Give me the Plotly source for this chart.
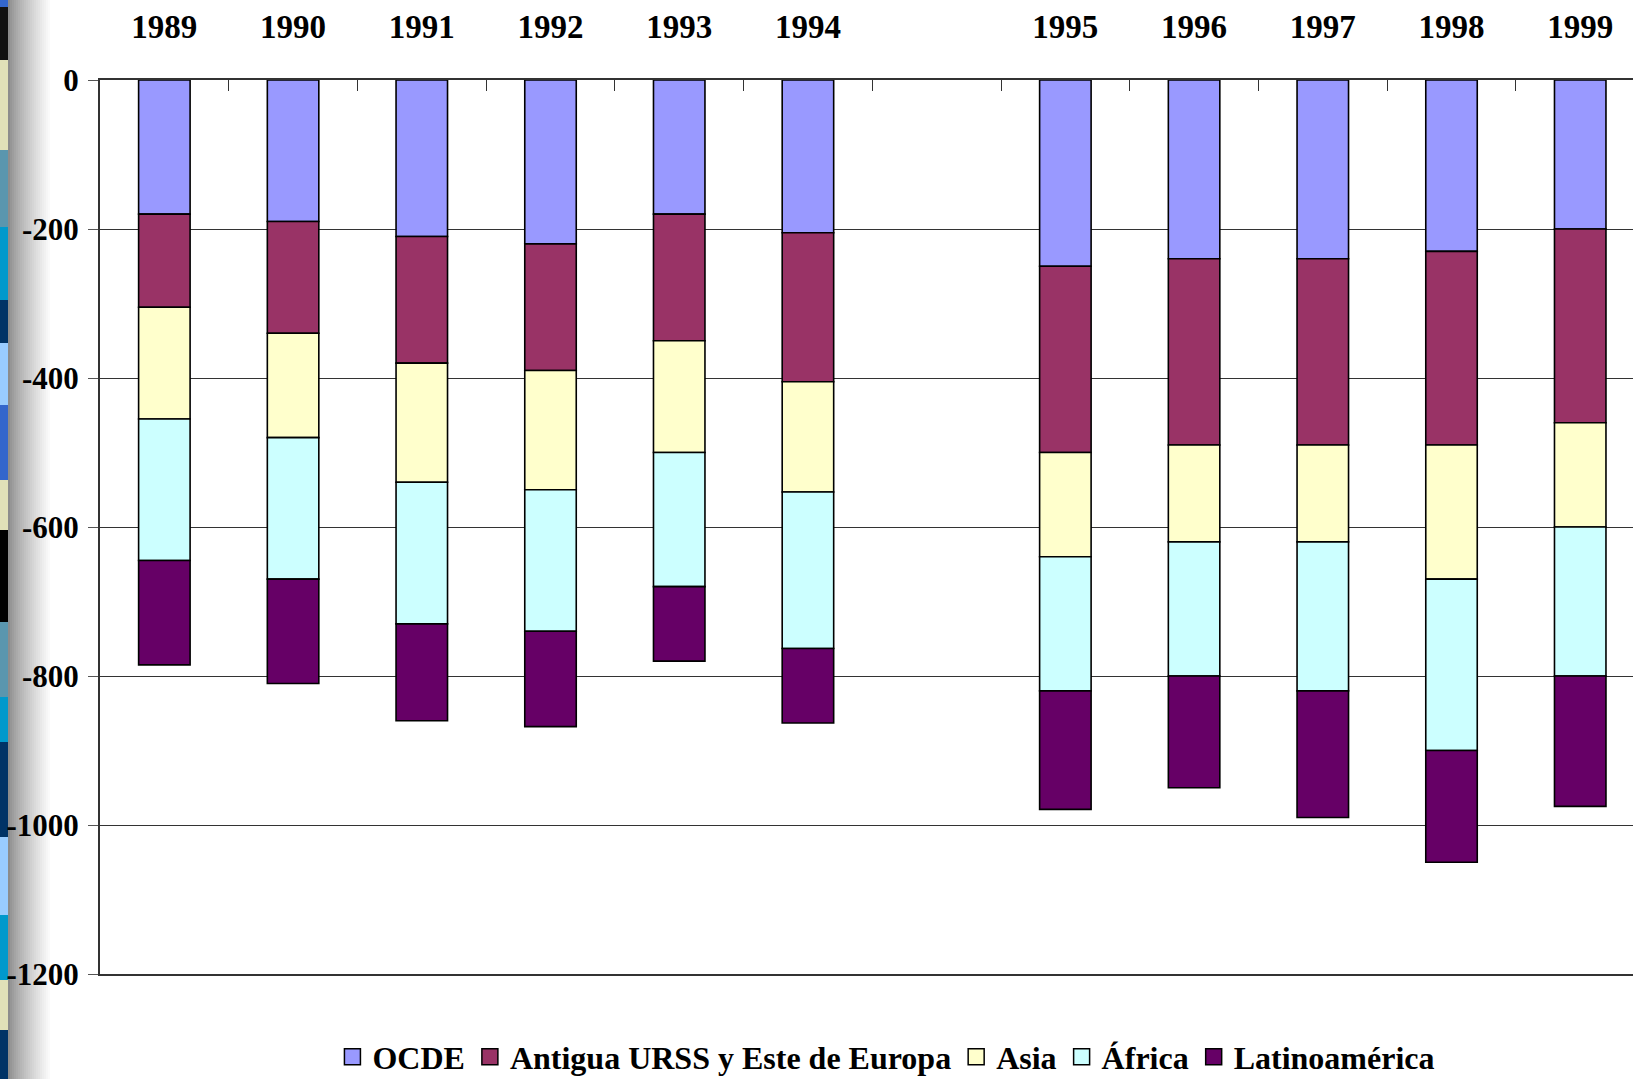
import plotly.graph_objects as go

# Years and their slot on the x axis (slot 6 is left empty as a visual break)
years = ["1989", "1990", "1991", "1992", "1993", "1994",
         "1995", "1996", "1997", "1998", "1999"]
slots = [0, 1, 2, 3, 4, 5, 7, 8, 9, 10, 11]

regions = ["OCDE", "Antigua URSS y Este de Europa", "Asia", "África", "Latinoamérica"]
colors = ["#9999FF", "#993366", "#FFFFCC", "#CCFFFF", "#660066"]

ocde = [-180, -190, -210, -220, -180, -205, -250, -240, -240, -230, -200]
urss = [-125, -150, -170, -170, -170, -200, -250, -250, -250, -260, -260]
asia = [-150, -140, -160, -160, -150, -148, -140, -130, -130, -180, -140]
africa = [-190, -190, -190, -190, -180, -210, -180, -180, -200, -230, -200]
latam = [-140, -140, -130, -128, -100, -100, -159, -150, -170, -150, -175]

series = [ocde, urss, asia, africa, latam]

y_ticks = [0, -200, -400, -600, -800, -1000, -1200]

# Decorative side band: (top px, bottom px, colour)
band = [
    (0, 7, "#3366CC"), (7, 60, "#111111"), (60, 150, "#E0E0B8"),
    (150, 227, "#5A96AE"), (227, 300, "#0099CC"), (300, 343, "#003366"),
    (343, 405, "#99CCFF"), (405, 480, "#3366CC"), (480, 530, "#E0E0B8"),
    (530, 622, "#000000"), (622, 697, "#5A96AE"), (697, 742, "#0099CC"),
    (742, 837, "#003366"), (837, 915, "#99CCFF"), (915, 980, "#0099CC"),
    (980, 1030, "#E0E0B8"), (1030, 1079, "#003366"),
]

W, H = 1633, 1079
L, T, B = 100, 80, 105
plot_w = W - L
plot_h = H - T - B


def px_x(p):
    return (p - L) / plot_w


def px_y(p):
    return (H - B - p) / plot_h


fig = go.Figure()
for name, vals, col in zip(regions, series, colors):
    fig.add_trace(go.Bar(
        x=slots, y=vals, name=name, width=0.4, legendgroup=name, showlegend=False,
        marker=dict(color=col, line=dict(color="black", width=1.6)),
    ))
# square swatches for the legend
for name, col in zip(regions, colors):
    fig.add_trace(go.Scatter(
        x=[None], y=[None], mode="markers", name=name, legendgroup=name,
        marker=dict(symbol="square", size=16, color=col,
                    line=dict(color="black", width=1.5)),
    ))

shapes = []
for top, bot, col in band:
    shapes.append(dict(type="rect", xref="paper", yref="paper",
                       x0=px_x(0), x1=px_x(12), y0=px_y(bot), y1=px_y(top),
                       fillcolor=col, line=dict(width=0), layer="below"))
# soft grey shading fading into the page
steps = 22
for i in range(steps):
    x0 = 8 + i * 2
    g = int(140 + (255 - 140) * (i / (steps - 1)) ** 0.8)
    shapes.append(dict(type="rect", xref="paper", yref="paper",
                       x0=px_x(x0), x1=px_x(x0 + 2.2), y0=px_y(H), y1=px_y(0),
                       fillcolor=f"rgb({g},{g},{g})", line=dict(width=0), layer="below"))

font_x = dict(family="Liberation Serif", size=33, color="black", weight="bold")
font_y = dict(family="Liberation Serif", size=31, color="black", weight="bold")

fig.update_layout(
    width=W, height=H,
    margin=dict(l=L, r=0, t=T, b=B, autoexpand=False),
    barmode="relative",
    plot_bgcolor="rgba(0,0,0,0)", paper_bgcolor="white",
    showlegend=True,
    legend=dict(orientation="h", x=0.513, xanchor="center", y=-0.062, yanchor="top",
                traceorder="normal", font=dict(family="Liberation Serif", size=32,
                                               color="black", weight="bold"),
                itemwidth=30, tracegroupgap=0, bgcolor="rgba(0,0,0,0)"),
    shapes=shapes,
    xaxis=dict(
        range=[-0.5, 11.41],
        side="top", tickvals=slots, ticktext=years, ticks="",
        tickfont=font_x, ticklabelstandoff=27,
        showgrid=False, zeroline=False,
        showline=True, linecolor="#333333", linewidth=2, mirror=True,
        minor=dict(tickvals=[s + 0.5 for s in range(11)], ticks="inside",
                   ticklen=11, tickcolor="#333333", tickwidth=1, showgrid=False),
    ),
    yaxis=dict(
        range=[-1200, 0], tickvals=y_ticks, ticktext=[str(v) for v in y_ticks],
        ticks="outside", ticklen=10, tickcolor="#555555", tickwidth=1,
        tickfont=font_y, ticklabelstandoff=3,
        showgrid=True, gridcolor="#333333", gridwidth=1,
        zeroline=False, showline=True, linecolor="#333333", linewidth=2,
    ),
)

fig.write_html("out.html")
